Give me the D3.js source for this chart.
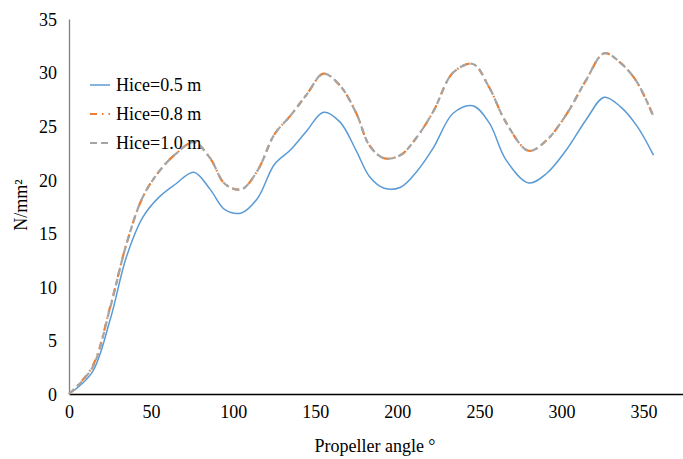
<!DOCTYPE html>
<html>
<head>
<meta charset="utf-8">
<script src="https://cdn.jsdelivr.net/npm/d3@7"></script>
<style>
  html, body { margin: 0; padding: 0; background: #fff; }
  svg text { font-family: "Liberation Serif", "Times New Roman", serif; fill: #000; }
</style>
</head>
<body>
<svg id="chart" width="683" height="459"></svg>
<script>
// Propeller angle (degrees) at which stress was sampled
const angles = [0, 14, 25, 35, 45, 55, 65, 76, 86, 95, 105, 115, 125, 135, 145, 155, 165, 175, 183, 192,
                202, 212, 222, 234, 246, 256, 266, 280, 291, 303, 315, 326, 336, 346, 356];

// Stress (N/mm²) for each ice thickness
const hice05 = [0, 2.0, 6.9, 12.8, 16.5, 18.4, 19.6, 20.7, 19.1, 17.2, 16.9, 18.3, 21.4, 22.8, 24.6, 26.3, 25.4, 22.7, 20.3, 19.2,
                19.3, 20.8, 23.0, 26.2, 26.9, 25.3, 21.9, 19.7, 20.6, 22.8, 25.6, 27.7, 26.8, 25.0, 22.3];
const hice08 = [0, 2.5, 8.1, 14.0, 18.4, 20.8, 22.4, 23.5, 22.0, 19.6, 19.1, 20.9, 24.2, 26.0, 28.0, 29.9, 28.8, 26.2, 23.2, 22.0,
                22.3, 24.0, 26.4, 30.0, 30.8, 28.6, 25.4, 22.7, 23.7, 26.1, 29.3, 31.8, 30.9, 29.1, 25.9];
const hice10 = [0, 2.4, 8.0, 14.0, 18.4, 20.8, 22.4, 23.5, 22.0, 19.6, 19.1, 20.9, 24.2, 26.0, 28.0, 29.9, 28.8, 26.2, 23.2, 22.0,
                22.3, 24.0, 26.4, 30.0, 30.8, 28.6, 25.4, 22.7, 23.7, 26.1, 29.3, 31.8, 30.9, 29.1, 25.9];

const seriesNames = ["Hice=0.5 m", "Hice=0.8 m", "Hice=1.0 m"];
const xTicks = [0, 50, 100, 150, 200, 250, 300, 350];
const yTicks = [0, 5, 10, 15, 20, 25, 30, 35];

const series = [
  { name: seriesNames[0], values: hice05, color: "#5b9bd5", dash: null,        width: 1.5 },
  { name: seriesNames[1], values: hice08, color: "#ed7d31", dash: "7,5,1.5,5", width: 2.2 },
  { name: seriesNames[2], values: hice10, color: "#a5a5a5", dash: "7,4",       width: 2.2 }
];

const svg = d3.select("#chart");
const plotLeft = 69, plotRight = 683, plotTop = 19, plotBottom = 394;

const x = d3.scaleLinear().domain([0, 374]).range([plotLeft, plotRight]);
const y = d3.scaleLinear().domain([0, 35]).range([plotBottom, plotTop]);

// Y axis (grey line, labels only)
const yAxis = svg.append("g")
  .attr("transform", `translate(${plotLeft},0)`)
  .call(d3.axisLeft(y).tickValues(yTicks).tickSize(0).tickPadding(12).tickFormat(d3.format("d")));
yAxis.select(".domain").attr("stroke", "#808080").attr("stroke-width", 1.3);
yAxis.selectAll("text").attr("font-size", 18).attr("font-family", "Liberation Serif").attr("dy", "0.35em");

// X axis (dark line, labels only)
const xAxis = svg.append("g")
  .attr("transform", `translate(0,${plotBottom})`)
  .call(d3.axisBottom(x).tickValues(xTicks).tickSize(0).tickPadding(18).tickFormat(d3.format("d")));
xAxis.select(".domain").attr("stroke", "#000").attr("stroke-width", 1.3);
xAxis.selectAll("text").attr("font-size", 18).attr("font-family", "Liberation Serif").attr("dy", "0.35em");

// Axis titles
svg.append("text")
  .attr("x", 375).attr("y", 452)
  .attr("text-anchor", "middle")
  .attr("font-size", 18)
  .text("Propeller angle °");

svg.append("text")
  .attr("transform", "translate(27,205) rotate(-90)")
  .attr("text-anchor", "middle")
  .attr("font-size", 18)
  .text("N/mm²");

// Smoothed series lines
const line = d3.line()
  .x((d, i) => x(angles[i]))
  .y(d => y(d))
  .curve(d3.curveCatmullRom.alpha(0.5));

series.forEach(s => {
  svg.append("path")
    .datum(s.values)
    .attr("fill", "none")
    .attr("stroke", s.color)
    .attr("stroke-width", s.width)
    .attr("stroke-dasharray", s.dash)
    .attr("d", line);
});

// Legend
const legend = svg.append("g");
series.forEach((s, i) => {
  const ly = 85 + i * 29;
  legend.append("line")
    .attr("x1", 90).attr("x2", 110)
    .attr("y1", ly).attr("y2", ly)
    .attr("stroke", s.color)
    .attr("stroke-width", s.width)
    .attr("stroke-dasharray", s.dash);
  legend.append("text")
    .attr("x", 116).attr("y", ly)
    .attr("dy", "0.35em")
    .attr("font-size", 18)
    .text(s.name);
});
</script>
</body>
</html>
